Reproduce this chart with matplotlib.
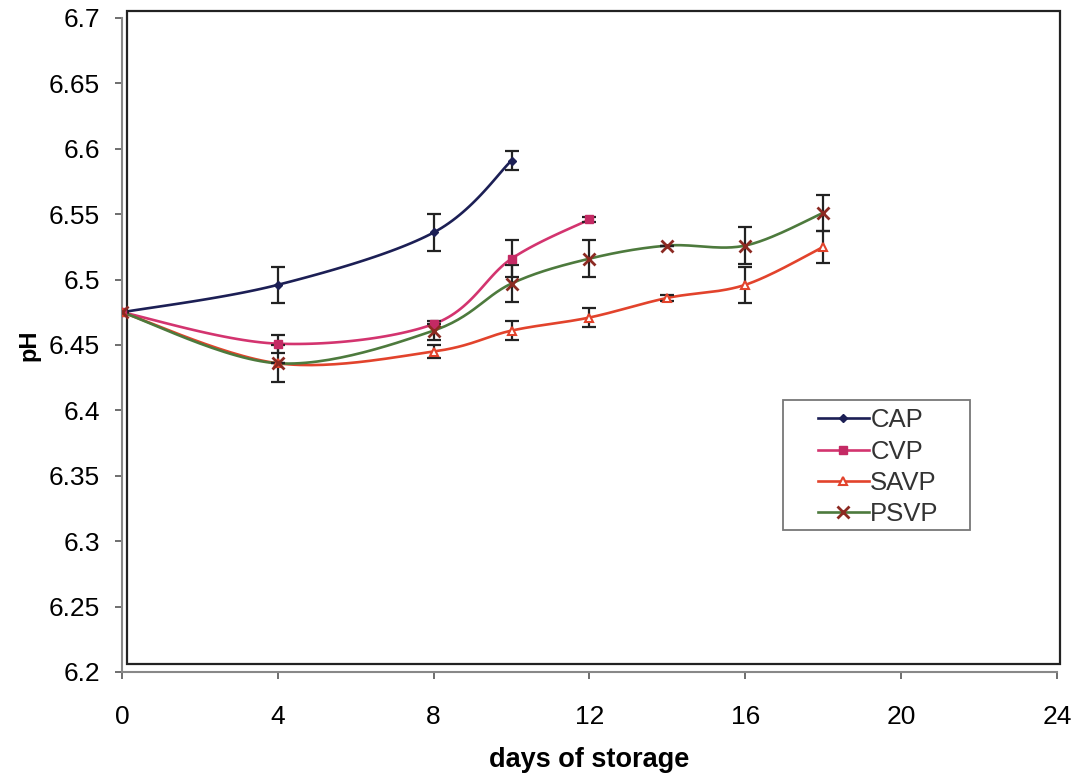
import numpy as np
import matplotlib.pyplot as plt
from matplotlib.patches import Rectangle

plt.rcParams['font.family'] = ['Liberation Sans', 'DejaVu Sans']

# pH readings over storage time (days)
days_cap = [0, 4, 8, 10]
ph_cap = [6.475, 6.496, 6.536, 6.591]
err_cap = [0.0, 0.014, 0.014, 0.007]

days_cvp = [0, 4, 8, 10, 12]
ph_cvp = [6.475, 6.451, 6.466, 6.516, 6.546]
err_cvp = [0.0, 0.007, 0.0, 0.014, 0.002]

days_savp = [0, 4, 8, 10, 12, 14, 16, 18]
ph_savp = [6.475, 6.436, 6.445, 6.461, 6.471, 6.486, 6.496, 6.525]
err_savp = [0.0, 0.014, 0.005, 0.007, 0.007, 0.002, 0.014, 0.012]

days_psvp = [0, 4, 8, 10, 12, 14, 16, 18]
ph_psvp = [6.475, 6.436, 6.461, 6.497, 6.516, 6.526, 6.526, 6.551]
err_psvp = [0.0, 0.0, 0.007, 0.014, 0.014, 0.0, 0.014, 0.014]

x_ticks = [0, 4, 8, 12, 16, 20, 24]
y_ticks = [6.2, 6.25, 6.3, 6.35, 6.4, 6.45, 6.5, 6.55, 6.6, 6.65, 6.7]
y_tick_labels = ['6.2', '6.25', '6.3', '6.35', '6.4', '6.45', '6.5', '6.55', '6.6', '6.65', '6.7']


def smooth(x, y, n=30, tension=0.5):
    # cardinal spline through the points, like a spreadsheet "smoothed line"
    x = np.asarray(x, float)
    y = np.asarray(y, float)
    px = np.concatenate([[x[0]], x, [x[-1]]])
    py = np.concatenate([[y[0]], y, [y[-1]]])
    xs, ys = [], []
    t = np.linspace(0, 1, n)
    h00 = 2 * t**3 - 3 * t**2 + 1
    h10 = t**3 - 2 * t**2 + t
    h01 = -2 * t**3 + 3 * t**2
    h11 = t**3 - t**2
    for i in range(1, len(px) - 2):
        mx0 = tension * (px[i + 1] - px[i - 1])
        my0 = tension * (py[i + 1] - py[i - 1])
        mx1 = tension * (px[i + 2] - px[i])
        my1 = tension * (py[i + 2] - py[i])
        xs.append(h00 * px[i] + h10 * mx0 + h01 * px[i + 1] + h11 * mx1)
        ys.append(h00 * py[i] + h10 * my0 + h01 * py[i + 1] + h11 * my1)
    return np.concatenate(xs), np.concatenate(ys)


fig = plt.figure(figsize=(10.82, 7.82), dpi=100)
ax = fig.add_axes([0.1128, 0.1407, 0.864, 0.8363])

series = [
    ('CAP', days_cap, ph_cap, err_cap, '#1c1f55', dict(marker='D', ms=4, mfc='#1c1f55', mec='#1c1f55')),
    ('CVP', days_cvp, ph_cvp, err_cvp, '#d3346f', dict(marker='s', ms=6, mfc='#c42a64', mec='#c42a64')),
    ('SAVP', days_savp, ph_savp, err_savp, '#e2432c', dict(marker='^', ms=6, mfc='white', mec='#e2432c', mew=1.5)),
    ('PSVP', days_psvp, ph_psvp, err_psvp, '#4d7a3d', dict(marker='x', ms=8, mec='#8c2a22', mew=2)),
]

for name, d, v, e, col, mk in series:
    sx, sy = smooth(d, v)
    ax.plot(sx, sy, color=col, lw=1.9, zorder=3)
    ax.errorbar(d, v, yerr=e, fmt='none', ecolor='#222222', elinewidth=1.6,
                capsize=5, capthick=1.6, zorder=4)
    ax.plot(d, v, linestyle='none', zorder=5, **mk)
    # legend handle
    ax.plot([], [], color=col, lw=1.9, label=name, **mk)

ax.set_xlim(0, 24)
ax.set_ylim(6.2, 6.7)
ax.set_xticks(x_ticks)
ax.set_xticklabels([str(t) for t in x_ticks])
ax.set_yticks(y_ticks)
ax.set_yticklabels(y_tick_labels)
ax.tick_params(axis='both', direction='out', length=5, width=1.2, color='#555555',
               labelsize=19)
ax.tick_params(axis='x', pad=19)
ax.tick_params(axis='y', pad=11)

for s in ['top', 'right']:
    ax.spines[s].set_visible(False)
for s in ['left', 'bottom']:
    ax.spines[s].set_color('#888888')
    ax.spines[s].set_linewidth(1.5)

# plot-area border
ax.add_patch(Rectangle((0.005, 0.012), 0.998, 0.999, transform=ax.transAxes,
                       fill=False, edgecolor='#222222', lw=1.6, clip_on=False, zorder=2))

ax.set_xlabel('days of storage', fontsize=19.5, fontweight='bold', labelpad=13)
ax.set_ylabel('pH', fontsize=17, fontweight='bold', labelpad=6)

# legend box drawn separately so the entries can sit right of centre
ax.add_patch(Rectangle((0.707, 0.217), 0.200, 0.199, transform=ax.transAxes,
                       facecolor='white', edgecolor='#777777', lw=1.3, zorder=6))
leg = ax.legend(loc='upper left', bbox_to_anchor=(0.744, 0.403), fontsize=18.5,
                frameon=False, handlelength=2.0, handletextpad=0.05,
                labelspacing=0.28, borderpad=0, borderaxespad=0)
leg.set_zorder(7)
for t in leg.get_texts():
    t.set_color('#333333')

fig.savefig('out.png', dpi=100)
